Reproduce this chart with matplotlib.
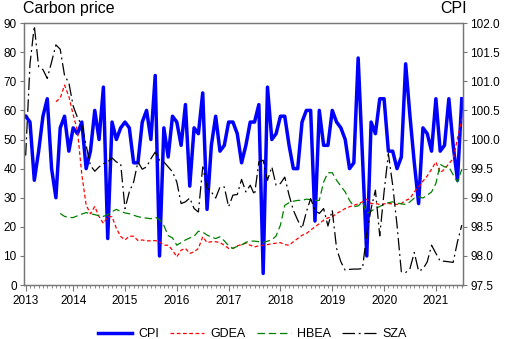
import numpy as np
import matplotlib
matplotlib.use("Agg")
import matplotlib.pyplot as plt
from matplotlib.lines import Line2D

plt.rcParams['font.family'] = ['Liberation Sans', 'DejaVu Sans']

# monthly series, first month Feb 2013 (index 0)
years = [2013, 2014, 2015, 2016, 2017, 2018, 2019, 2020, 2021]
year_idx = [0, 11, 23, 35, 47, 59, 71, 83, 95]

cpi = [100.4, 100.3, 99.3, 99.8, 100.4, 100.7, 99.5, 99.0, 100.2, 100.4,
       99.8, 100.2, 100.1, 100.3, 99.5, 99.8, 100.5, 100.0, 100.9, 98.3,
       100.3, 100.0, 100.2, 100.3, 100.2, 99.6, 99.6, 100.3, 100.5, 100.0,
       101.1, 98.0, 100.2, 99.7, 100.4, 100.3, 99.9, 100.6, 99.2, 100.2,
       100.1, 100.8, 98.8, 99.9, 100.4, 99.8, 99.9, 100.3, 100.3, 100.1,
       99.6, 99.9, 100.3, 100.3, 100.6, 97.7, 100.9, 100.0, 100.1, 100.4,
       100.4, 99.9, 99.5, 99.5, 100.3, 100.5, 100.5, 98.6, 100.5, 99.9,
       99.9, 100.5, 100.3, 100.2, 100.0, 99.5, 99.6, 101.4, 99.7, 98.0,
       100.3, 100.1, 100.7, 100.7, 99.8, 99.8, 99.5, 99.7, 101.3, 100.4,
       99.6, 98.9, 100.2, 100.1, 99.8, 100.7, 99.8, 99.9, 100.7, 99.9,
       99.3, 100.7]

gdea = [np.nan] * 7 + [
    63.0, 64.2, 68.7, 64.8, 58.5, 53.0, 38.0, 27.5, 24.5, 27.0,
    23.5, 21.2, 23.5, 23.5, 19.5, 16.7, 15.5, 16.8, 16.8, 15.3,
    15.5, 15.2, 15.2, 15.3, 14.8, 13.7, 13.7, 12.0, 9.7, 12.0,
    12.6, 10.9, 11.4, 12.6, 16.6, 14.6, 14.9, 14.9, 14.6, 13.7,
    12.6, 12.6, 13.5, 13.9, 14.4, 13.7, 13.1, 13.5, 13.7, 13.9,
    14.2, 14.4, 14.6, 13.9, 13.7, 14.9, 16.0, 17.1, 17.7, 18.9,
    20.0, 21.1, 22.3, 23.1, 23.4, 24.6, 25.4, 26.3, 26.9, 27.4,
    27.9, 28.6, 29.5, 28.0, 28.0, 27.7, 27.9, 28.0, 27.9, 27.7,
    28.0, 29.1, 29.7, 32.0, 33.7, 35.7, 37.5, 39.8, 42.3, 38.6,
    39.8, 41.7, 43.4, 50.3, 57.1]

hbea = [np.nan] * 8 + [
    24.6, 23.6, 23.2, 23.2, 23.8, 24.4, 24.9, 24.5, 24.2, 23.8,
    23.6, 24.2, 25.2, 26.0, 25.3, 24.8, 24.5, 24.0, 23.5, 23.2,
    23.0, 22.8, 23.3, 22.5, 20.5, 17.0, 16.2, 13.7, 14.6, 15.5,
    16.2, 16.8, 18.5, 18.2, 17.2, 16.5, 16.0, 16.6, 15.2, 13.5,
    12.6, 13.3, 13.8, 14.7, 15.1, 15.1, 14.9, 14.6, 15.1, 15.5,
    16.9, 20.6, 27.4, 28.3, 28.8, 29.1, 29.1, 29.5, 29.4, 29.1,
    29.1, 35.4, 38.6, 38.6, 36.0, 34.0, 32.0, 29.1, 26.9, 27.2,
    28.6, 24.6, 25.4, 26.3, 27.0, 27.7, 28.3, 28.6, 28.2, 27.9,
    27.7, 28.6, 29.9, 30.3, 29.9, 30.9, 32.0, 34.9, 41.5, 40.6,
    40.6, 37.9, 35.4, 39.8]

sza = [44.5, 76.0, 89.0, 75.0, 74.0, 71.0, 76.6, 82.5, 81.0, 72.0,
       69.5, 61.5, 57.5, 55.0, 48.0, 41.1, 39.1, 40.6, 41.7, 42.3,
       43.7, 42.3, 41.7, 26.3, 32.0, 35.4, 42.3, 39.8, 40.6, 43.4,
       45.7, 42.9, 42.3, 40.6, 38.9, 35.4, 28.0, 28.6, 29.9, 26.3,
       25.1, 40.6, 33.4, 32.0, 29.9, 33.7, 33.7, 26.9, 30.9, 31.1,
       36.3, 32.0, 34.3, 31.0, 42.3, 42.9, 36.0, 40.6, 34.3, 34.9,
       37.1, 30.9, 25.7, 22.3, 19.4, 25.1, 29.7, 25.7, 24.6, 26.3,
       20.3, 25.7, 12.6, 8.0, 5.1, 5.4, 5.5, 5.5, 5.7, 17.7,
       26.3, 32.6, 16.9, 32.0, 45.1, 34.3, 20.6, 4.6, 4.3, 5.7,
       11.2, 4.8, 5.5, 8.0, 13.7, 10.9, 8.2, 8.2, 8.0, 7.8,
       14.9, 20.6]

t = np.arange(len(cpi))
spine_c = '#777777'

fig = plt.figure(figsize=(5.05, 3.39), dpi=100)
ax = fig.add_axes([0.047, 0.159, 0.870, 0.773])
ax2 = ax.twinx()
ax.set_zorder(ax2.get_zorder() + 1)
ax.patch.set_visible(False)

ax2.plot(t, cpi, color='#0000ff', lw=2.5)
ax.plot(t, gdea, color='#ff0000', lw=0.9, dashes=(3, 2))
ax.plot(t, hbea, color='#008000', lw=0.9, dashes=(6, 3))
ax.plot(t, sza, color='black', lw=0.9, dashes=(10, 3, 1.5, 3))

ax.set_xlim(-0.45, 101.3)
ax.set_ylim(0, 90)
ax.set_yticks(range(0, 91, 10))
ax2.set_ylim(97.5, 102.0)
ax2.set_yticks(np.arange(97.5, 102.01, 0.5))
ax2.set_yticklabels([f'{v:.1f}' for v in np.arange(97.5, 102.01, 0.5)])

ax.set_xticks(year_idx)
ax.set_xticklabels([str(y) for y in years])
ax.set_xticks(t, minor=True)

for a in (ax, ax2):
    for s in a.spines.values():
        s.set_color(spine_c)
        s.set_linewidth(0.9)
    a.tick_params(axis='both', which='major', labelsize=8.5, length=3,
                  width=0.8, color=spine_c, pad=2)
    a.tick_params(axis='x', which='minor', length=2, width=0.6, color=spine_c)
ax.tick_params(axis='x', which='major', length=4, pad=3)

fig.text(0.046, 0.962, 'Carbon price', fontsize=11.5, ha='left', va='baseline')
fig.text(0.924, 0.962, 'CPI', fontsize=11.5, ha='right', va='baseline')

handles = [Line2D([], [], color='#0000ff', lw=2.5),
           Line2D([], [], color='#ff0000', lw=0.9, dashes=(3, 2)),
           Line2D([], [], color='#008000', lw=0.9, dashes=(6, 3)),
           Line2D([], [], color='black', lw=0.9, dashes=(10, 3, 1.5, 3))]
fig.legend(handles, ['CPI', 'GDEA', 'HBEA', 'SZA'], loc='lower center',
           bbox_to_anchor=(0.5, -0.036), ncol=4, frameon=False, fontsize=9,
           handlelength=2.7, handletextpad=0.5, columnspacing=0.9)

fig.savefig('out.png', dpi=100)
